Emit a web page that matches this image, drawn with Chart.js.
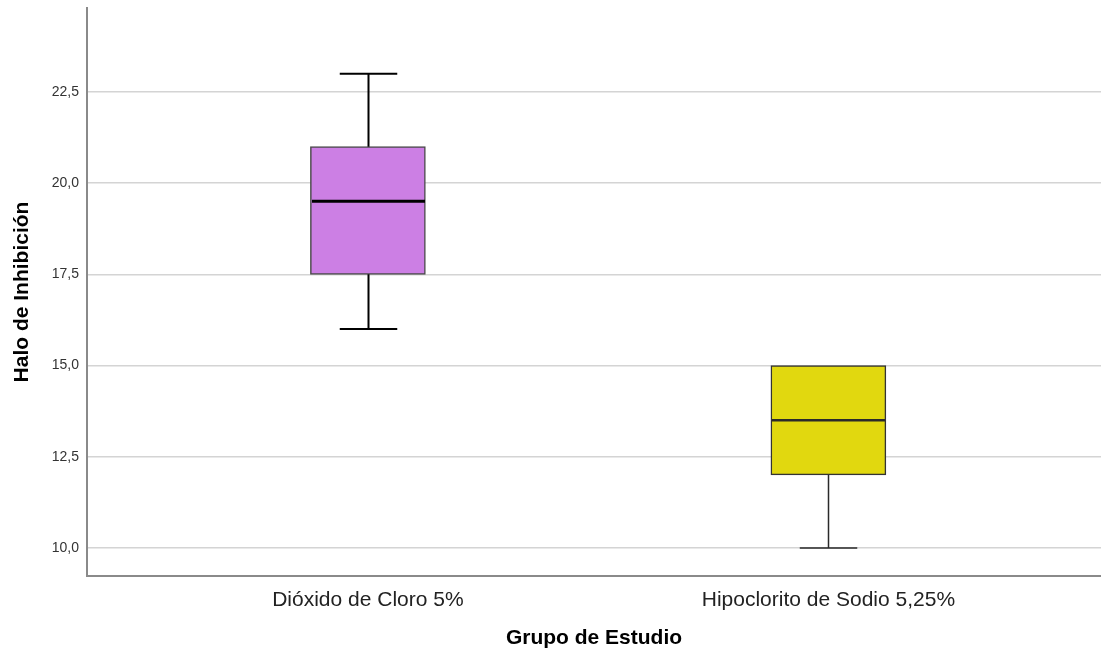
<!DOCTYPE html>
<html>
<head>
<meta charset="utf-8">
<script src="https://cdn.jsdelivr.net/npm/chart.js@4/dist/chart.umd.min.js"></script>
<style>
  html, body { margin: 0; padding: 0; background: #ffffff; }
  #wrap { width: 1101px; height: 653px; }
</style>
</head>
<body>
<div id="wrap"><canvas id="c" width="1101" height="653"></canvas></div>
<script>
// Grupos de estudio y resumen de cinco números del halo de inhibición
const categories = ['Dióxido de Cloro 5%', 'Hipoclorito de Sodio 5,25%'];
const minimos = [16, 10];
const q1 = [17.5, 12];
const medianas = [19.5, 13.5];
const q3 = [21, 15];
const maximos = [23, 15];
const yTicks = [10, 12.5, 15, 17.5, 20, 22.5];

// Estilo de cada caja
const fillColors = ['#cc7fe4', '#e1d80f'];
const edgeColors = ['#4a4a4a', '#333333'];
const whiskerWidths = [2, 1.5];
const medianWidths = [3, 2.5];

const positions = categories.map((_, i) => i + 1);

// Bigotes, topes y mediana dibujados con las escalas del gráfico
const boxPlugin = {
  id: 'bigotesYMediana',
  afterDatasetsDraw(chart) {
    const { ctx, scales: { x, y } } = chart;
    const boxW = 115;
    const capW = boxW / 2;
    ctx.save();
    positions.forEach((p, i) => {
      const cx = Math.round(x.getPixelForValue(p)) + 0.5;
      ctx.strokeStyle = i === 0 ? '#000000' : '#2a2a2a';
      ctx.lineWidth = whiskerWidths[i];
      ctx.lineCap = 'butt';
      // bigote superior
      if (maximos[i] > q3[i]) {
        ctx.beginPath();
        ctx.moveTo(cx, y.getPixelForValue(q3[i]));
        ctx.lineTo(cx, y.getPixelForValue(maximos[i]));
        ctx.moveTo(cx - capW / 2, y.getPixelForValue(maximos[i]));
        ctx.lineTo(cx + capW / 2, y.getPixelForValue(maximos[i]));
        ctx.stroke();
      }
      // bigote inferior
      if (minimos[i] < q1[i]) {
        ctx.beginPath();
        ctx.moveTo(cx, y.getPixelForValue(q1[i]));
        ctx.lineTo(cx, y.getPixelForValue(minimos[i]));
        ctx.moveTo(cx - capW / 2, y.getPixelForValue(minimos[i]));
        ctx.lineTo(cx + capW / 2, y.getPixelForValue(minimos[i]));
        ctx.stroke();
      }
      // mediana
      ctx.lineWidth = medianWidths[i];
      ctx.beginPath();
      ctx.moveTo(cx - boxW / 2 + 1, y.getPixelForValue(medianas[i]));
      ctx.lineTo(cx + boxW / 2 - 1, y.getPixelForValue(medianas[i]));
      ctx.stroke();
    });
    ctx.restore();
  }
};

const fmt = v => Number(v).toFixed(1).replace('.', ',');
const FONT = '"Liberation Sans", Arial, sans-serif';

new Chart(document.getElementById('c'), {
  type: 'bar',
  data: {
    datasets: [{
      data: positions.map((p, i) => ({ x: p, y: [q1[i], q3[i]] })),
      backgroundColor: fillColors,
      borderColor: edgeColors,
      borderWidth: 1.5,
      borderSkipped: false,
      barThickness: 115
    }]
  },
  options: {
    responsive: false,
    animation: false,
    layout: { padding: { top: 8, right: 0, left: 0, bottom: 0 } },
    plugins: { legend: { display: false }, tooltip: { enabled: false } },
    scales: {
      x: {
        type: 'linear',
        offset: false,
        min: 0.39,
        max: 2.592,
        afterFit(s) { s.height = 77; s.paddingLeft = 0; s.paddingRight = 0; },
        afterBuildTicks(s) { s.ticks = positions.map(v => ({ value: v })); },
        grid: { display: false, drawTicks: false },
        border: { display: true, color: '#8a8a8a', width: 2 },
        ticks: {
          autoSkip: false,
          maxRotation: 0,
          padding: 12,
          color: '#222222',
          font: { family: FONT, size: 21 },
          callback: v => categories[Math.round(v) - 1] || ''
        },
        title: {
          display: true,
          text: 'Grupo de Estudio',
          color: '#000000',
          padding: { top: 0, bottom: 2 },
          font: { family: FONT, size: 21, weight: 'bold' }
        }
      },
      y: {
        type: 'linear',
        min: 9.23,
        max: 24.8,
        afterFit(s) { s.width = 87; s.paddingTop = 0; s.paddingBottom = 0; },
        afterBuildTicks(s) { s.ticks = yTicks.map(v => ({ value: v })); },
        grid: { color: '#d4d4d4', lineWidth: 1.5, drawTicks: false },
        border: { display: true, color: '#8a8a8a', width: 2 },
        ticks: {
          padding: 8,
          color: '#333333',
          font: { family: FONT, size: 14 },
          callback: v => fmt(v)
        },
        title: {
          display: true,
          text: 'Halo de Inhibición',
          color: '#000000',
          padding: { top: 10, bottom: 0 },
          font: { family: FONT, size: 21, weight: 'bold' }
        }
      }
    }
  },
  plugins: [boxPlugin]
});
</script>
</body>
</html>
